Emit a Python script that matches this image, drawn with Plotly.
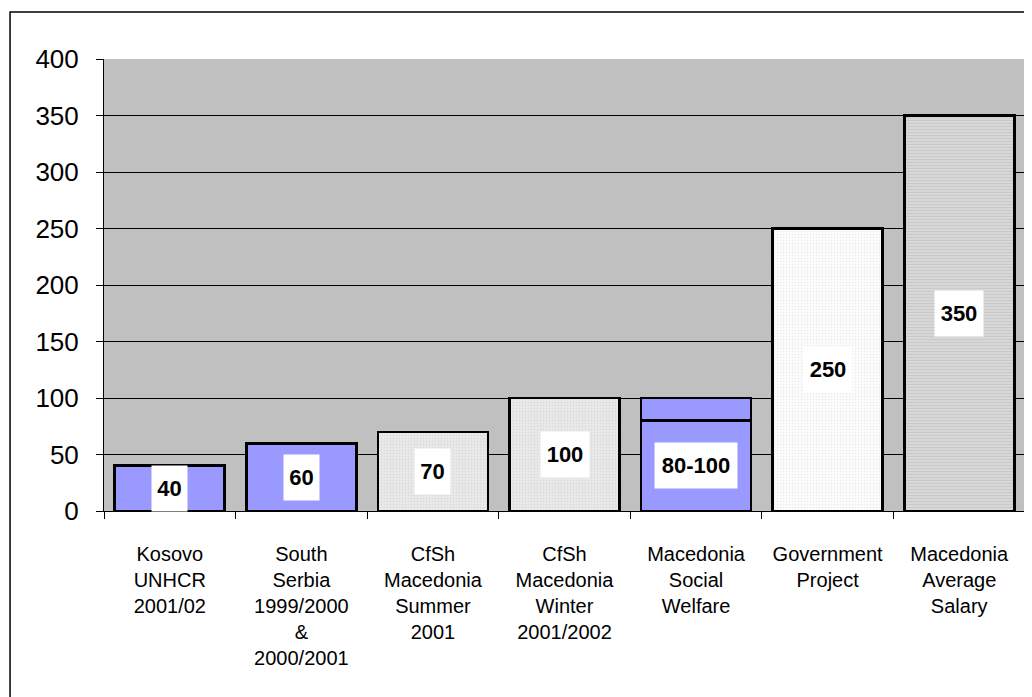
import plotly.graph_objects as go

categories = [
    "Kosovo<br>UNHCR<br>2001/02",
    "South<br>Serbia<br>1999/2000<br>&<br>2000/2001",
    "CfSh<br>Macedonia<br>Summer<br>2001",
    "CfSh<br>Macedonia<br>Winter<br>2001/2002",
    "Macedonia<br>Social<br>Welfare",
    "Government<br>Project",
    "Macedonia<br>Average<br>Salary",
]
base_values = [40, 60, 70, 100, 80, 250, 350]
range_extra = [None, None, None, None, 20, None, None]
value_labels = ["40", "60", "70", "100", "80-100", "250", "350"]
y_ticks = [0, 50, 100, 150, 200, 250, 300, 350, 400]

# fill style group of each bar
bar_style = ["blue", "blue", "light", "light", "blue", "white", "lines"]

blue = "#9999FF"
styles = {
    "blue": dict(color=blue),
    "light": dict(color="#EBEBEB", pattern=dict(shape=".", fgcolor="#DADADA", bgcolor="#EBEBEB",
                                                 size=3, solidity=0.3, fillmode="replace")),
    "white": dict(color="#FFFFFF", pattern=dict(shape=".", fgcolor="#ECECEC", bgcolor="#FFFFFF",
                                                 size=3, solidity=0.3, fillmode="replace")),
    "lines": dict(color="#D9D9D9", pattern=dict(shape="-", fgcolor="#CACACA", bgcolor="#D9D9D9",
                                                 size=3, solidity=0.4, fillmode="replace")),
}
outline = dict(color="black", width=2.8)

fig = go.Figure()
for name, st in styles.items():
    ys = [v if s == name else None for v, s in zip(base_values, bar_style)]
    fig.add_trace(go.Bar(x=categories, y=ys, marker=dict(line=outline, **st), hoverinfo="skip"))
fig.add_trace(go.Bar(x=categories, y=range_extra, marker=dict(color=blue, line=outline),
                     hoverinfo="skip"))

label_width = {2: 33, 3: 46, 6: 80}
for cat, v, lab in zip(categories, base_values, value_labels):
    fig.add_annotation(
        x=cat, y=v / 2, text="<b>%s</b>" % lab, showarrow=False,
        font=dict(family="Liberation Sans, Arial", size=22, color="black"),
        bgcolor="white", width=label_width.get(len(lab), 46), height=43,
        xanchor="center", yanchor="middle",
    )

# outer chart border
fig.add_shape(type="rect", xref="paper", yref="paper",
              x0=-0.102, x1=1.2, y0=-0.6, y1=1.104,
              line=dict(color="black", width=1.5), fillcolor="rgba(0,0,0,0)", layer="below")

fig.update_layout(
    width=1024, height=689,
    margin=dict(l=96, r=7, t=51, b=186),
    paper_bgcolor="white", plot_bgcolor="#C0C0C0",
    barmode="stack", bargap=0.164, showlegend=False,
    font=dict(family="Liberation Sans, Arial", color="black"),
)
fig.update_xaxes(
    type="category", showline=True, linecolor="black", linewidth=1,
    ticks="outside", tickson="boundaries", ticklen=7, tickcolor="black",
    tickfont=dict(size=20), showgrid=False, ticklabelstandoff=25,
)
fig.update_yaxes(
    range=[0, 400], tickvals=y_ticks, showline=True, linecolor="black", linewidth=1,
    ticks="outside", ticklen=7, tickcolor="black", tickfont=dict(size=26),
    showgrid=True, gridcolor="black", gridwidth=1, zeroline=False, ticklabelstandoff=12,
)

fig.write_html("out.html")
